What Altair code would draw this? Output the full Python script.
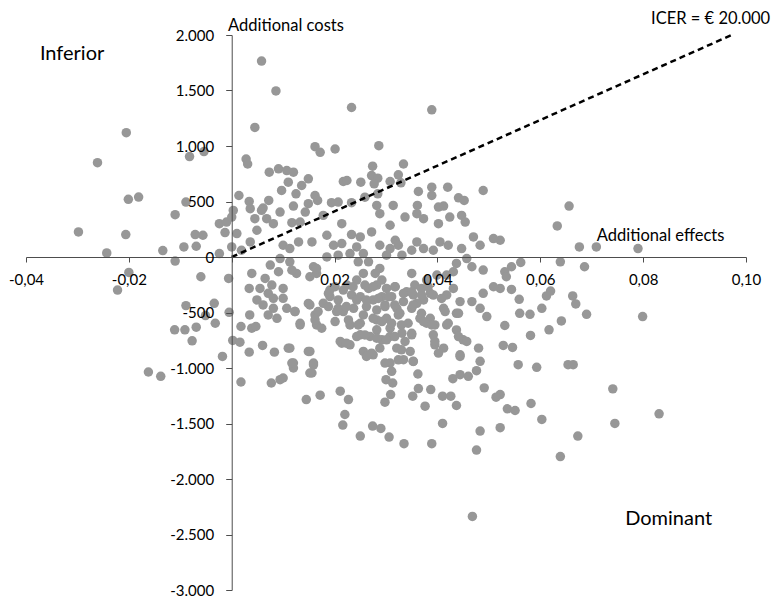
import altair as alt
import pandas as pd

# incremental effects (QALY) of each bootstrap replicate
effects = [
    -0.0205, -0.0261, -0.0201, -0.0181, -0.0082, -0.0054, -0.0089, 0.0058, 0.0086, 0.0045,
    0.0028, 0.0031, 0.0073, 0.0091, 0.0014, 0.0034, 0.0072, 0.0061, 0.0097,
    0.0233, 0.0389, 0.0162, 0.0172, 0.0201, 0.0286, 0.0334, 0.0274, 0.0324, 0.0272,
    0.0284, 0.0308, 0.0329, 0.0277, 0.0251, 0.0217, 0.0224, 0.0149, 0.0136, 0.0120,
    0.0107, 0.0110, 0.0125, 0.0162, 0.0167, 0.0149, 0.0120, 0.0194, 0.0207, 0.0233,
    0.0259, 0.0284, 0.0282, 0.0314, 0.0363, 0.0389, 0.0389, 0.0420, 0.0441, 0.0452,
    0.0489, 0.0361, 0.0402, 0.0412,
    0.0656,
    -0.0298, -0.0243, -0.0206, -0.0200, -0.0222, -0.0134, -0.0110, -0.0110, -0.0093, -0.0071,
    -0.0056, -0.0069, -0.0024, -0.0060, -0.0006, -0.0089, -0.0034, -0.0051, -0.0005, -0.0032,
    -0.0111, -0.0091, -0.0069, -0.0077, -0.0018, 0.0002, 0.0016, 0.0018, 0.0034, 0.0060,
    0.0083, 0.0039, 0.0047, 0.0035, -0.0024, -0.0010, 0.0000, 0.0010, -0.0013, 0.0000,
    0.0019, 0.0036, 0.0049, 0.0045, 0.0068, 0.0081, 0.0003, 0.0036, 0.0058, 0.0039,
    0.0065, 0.0078, 0.0034, 0.0055, 0.0071, 0.0049, 0.0061, 0.0081, 0.0071, 0.0088,
    0.0081, 0.0075, 0.0091,
    0.0633, 0.0522, 0.0676, 0.0709, 0.0790, 0.0639, 0.0686, 0.0562, 0.0544, 0.0531,
    0.0534, 0.0522, 0.0544, 0.0559, 0.0612, 0.0620, 0.0663, 0.0669, 0.0603, 0.0560,
    0.0580, 0.0690, 0.0799, 0.0641, 0.0531, 0.0617, 0.0581, 0.0528, 0.0546, 0.0557,
    0.0593, 0.0654, 0.0664,
    0.0741, 0.0522, 0.0582, 0.0536, 0.0551, 0.0603, 0.0522, 0.0745, 0.0831, 0.0673, 0.0639,
    -0.0162, -0.0138, 0.0018, 0.0077, 0.0094,
    0.0100, 0.0156, 0.0120, 0.0145, 0.0172, 0.0211, 0.0227, 0.0220, 0.0216, 0.0250,
    0.0274, 0.0290, 0.0306, 0.0335, 0.0389, 0.0300, 0.0311, 0.0313, 0.0309, 0.0298,
    0.0362, 0.0363, 0.0352, 0.0387, 0.0376, 0.0410, 0.0426, 0.0437, 0.0430, 0.0444,
    0.0460, 0.0476, 0.0491, 0.0514, 0.0410, 0.0483, 0.0476, 0.0468,
    0.0094, 0.0117, 0.0133, 0.0143, 0.0178, 0.0214, 0.0233, 0.0250, 0.0272, 0.0288,
    0.0308, 0.0337, 0.0360, 0.0373, 0.0402, 0.0424, 0.0447, 0.0454, 0.0185, 0.0198,
    0.0214, 0.0130, 0.0156, 0.0100, 0.0113, 0.0094, 0.0113, 0.0126, 0.0159, 0.0165,
    0.0185, 0.0207, 0.0230, 0.0243, 0.0256, 0.0246, 0.0266, 0.0288, 0.0308, 0.0318,
    0.0324, 0.0301, 0.0331, 0.0350, 0.0360, 0.0373, 0.0392, 0.0405, 0.0421, 0.0447,
    0.0457, 0.0470, 0.0483, 0.0509, 0.0467, 0.0489, 0.0437, 0.0431, 0.0418, 0.0399,
    0.0379, 0.0350, 0.0288, 0.0279, 0.0256, 0.0243, 0.0224, 0.0191, 0.0191, 0.0207,
    0.0233, 0.0250, 0.0266, 0.0282, 0.0301, 0.0318, 0.0340, 0.0356, 0.0369, 0.0386,
    0.0373, 0.0353, 0.0311, 0.0292, 0.0275, 0.0262, 0.0282, 0.0298, 0.0321, 0.0334,
    0.0324, 0.0301, 0.0282, 0.0256, 0.0237, 0.0217, 0.0207, 0.0178, 0.0152, 0.0162,
    0.0165, 0.0133, 0.0123, 0.0107, 0.0100, 0.0100, 0.0250, 0.0230, 0.0282, 0.0308,
    0.0343, 0.0350, 0.0331, 0.0308, 0.0292, 0.0269, 0.0250, 0.0230, 0.0214, 0.0256,
    0.0275, 0.0308, 0.0334, 0.0353, 0.0321, 0.0288, 0.0379, 0.0395, 0.0418, 0.0412,
    0.0437, 0.0418, 0.0431, 0.0444, 0.0467, 0.0483, 0.0496, 0.0509, 0.0489, 0.0450,
    0.0457, 0.0480, 0.0483, 0.0444, 0.0412, 0.0395, 0.0392, 0.0152, 0.0120, 0.0159,
    0.0110, 0.0366, 0.0386, 0.0350, 0.0360,
    0.0117, 0.0165, 0.0152, 0.0188, 0.0201, 0.0217, 0.0236, 0.0259, 0.0275, 0.0292,
    0.0317, 0.0334, 0.0350, 0.0369, 0.0382, 0.0392, 0.0408, 0.0149, 0.0168, 0.0188,
    0.0204, 0.0223, 0.0243, 0.0262, 0.0285, 0.0305, 0.0298, 0.0317, 0.0327, 0.0353,
    0.0369, 0.0123, 0.0133, 0.0162, 0.0175, 0.0201, 0.0227, 0.0246, 0.0275, 0.0292,
    0.0311, 0.0330, 0.0350, 0.0373, 0.0389, 0.0415, 0.0421, 0.0437, 0.0441, 0.0211,
    0.0223, 0.0243, 0.0259, 0.0282, 0.0301, 0.0317, 0.0337, 0.0330, 0.0347, 0.0272,
    0.0262, 0.0298, 0.0324, 0.0353, 0.0395, 0.0402, 0.0441, 0.0444, 0.0113, 0.0149,
    0.0117, 0.0159, 0.0152,
]

# incremental costs (EUR) of each bootstrap replicate
costs = [
    1120, 850, 520, 540, 905, 950, 495, 1765, 1496, 1167,
    883, 838, 764, 794, 554, 501, 510, 441, 600,
    1347, 1326, 994, 943, 973, 1003, 838, 818, 740, 734,
    710, 680, 668, 659, 674, 680, 689, 704, 644, 764,
    779, 674, 569, 554, 510, 480, 459, 489, 495, 489,
    539, 569, 465, 465, 590, 629, 554, 629, 533, 510,
    599, 465, 450, 459,
    459,
    226, 37, 202, -139, -298, 58, -37, 381, 91, 202,
    196, 97, 31, -178, -193, -438, -417, -528, -498, -597,
    -656, -656, -632, -755, -896, -752, -767, -626, -857, -797,
    -857, -641, -626, -522, 300, 315, 360, 211, 220, 91,
    61, 136, 241, 345, 345, 300, 420, 435, 420, -148,
    -193, -253, -283, -283, -327, -387, -432, -462, -522, -552,
    -372, -73, -133,
    280, 151, 91, 91, 76, -43, -88, -49, -88, -133,
    -178, -283, -292, -381, -351, -307, -351, -423, -462, -507,
    -516, -516, -537, -576, -617, -656, -707, -797, -815, -970,
    -994, -970, -970,
    -1188, -1239, -1320, -1368, -1383, -1463, -1538, -1499, -1413, -1613, -1798,
    -1036, -1075, -1126, -1135, -1105,
    -1090, -1045, -1000, -1284, -1245, -1209, -1284, -1419, -1514, -1613,
    -1523, -1544, -1622, -1682, -1682, -1105, -1030, -1135, -1239, -1308,
    -1054, -1185, -1254, -1194, -1344, -1254, -1254, -1338, -1096, -1060,
    -1075, -1024, -1179, -1263, -1499, -1568, -1739, -2337,
    405, 309, 315, 405, 375, 300, 202, 181, 226, 390,
    286, 360, 390, 345, 300, 360, 375, 315, 196, 106,
    121, 136, 136, 106, 76, -14, -43, -148, -88, -148,
    1, 16, 31, 91, 31, -43, -43, 106, 76, 151,
    106, 16, 16, 61, 136, 76, 61, 136, 106, 76,
    -14, 181, 106, 166, -88, -118, -58, -133, -163, -163,
    -208, -148, -103, -148, -148, -208, -253, -298, -357, -387,
    -342, -357, -283, -253, -283, -268, -313, -253, -283, -327,
    -387, -342, -357, -357, -387, -447, -477, -432, -462, -402,
    -522, -552, -567, -522, -462, -492, -462, -417, -432, -522,
    -612, -612, -492, -462, -283, -372, -597, -612, -656, -641,
    -597, -701, -686, -716, -746, -716, -701, -791, -776, -851,
    -881, -955, -925, -940, -821, -821, -597, -612, -612, -462,
    -507, -342, -283, -402, -402, -462, -537, -268, -327, -746,
    -761, -821, -940, -881, -821, -791, -701, -851, -955, -955,
    -821, -552, -552, -462, -417,
    -119, -104, -178, -328, -268, -298, -268, -253, -268, -208,
    -268, -328, -313, -343, -268, -343, -373, -418, -492, -447,
    -492, -447, -388, -388, -373, -358, -447, -432, -507, -432,
    -507, -492, -597, -567, -642, -582, -567, -612, -552, -582,
    -597, -612, -687, -582, -612, -492, -597, -657, -507, -761,
    -776, -717, -702, -731, -746, -717, -761, -836, -851, -866,
    -896, -956, -926, -941, -761, -866, -717, -896, -821, -851,
    -956, -971, -1045,
]

n = min(len(effects), len(costs))
df = pd.DataFrame({"effect": effects[:n], "cost": costs[:n]})

# threshold line ICER = EUR 20.000 per QALY
icer_effect = [0.0, 0.0977]
icer_cost = [0.0, 2010.0]
line_df = pd.DataFrame({"effect": icer_effect, "cost": icer_cost})

# quadrant annotations (left aligned)
note_text = ["Inferior", "Dominant", "Additional costs", "Additional effects"]
note_effect = [-0.0373, 0.0765, -0.0007, 0.0710]
note_cost = [1776, -2418, 2036, 145]
note_size = [20, 20, 16.5, 16.5]
notes_df = pd.DataFrame({"text": note_text, "effect": note_effect, "cost": note_cost, "size": note_size})

# threshold label (right aligned at the top right corner)
icer_text = ["ICER = € 20.000"]
icer_label_effect = [0.1047]
icer_label_cost = [2099]
icer_label_df = pd.DataFrame({"text": icer_text, "effect": icer_label_effect, "cost": icer_label_cost})

x_ticks = [-0.04, -0.02, 0.0, 0.02, 0.04, 0.06, 0.08, 0.10]
y_ticks = [-3000, -2500, -2000, -1500, -1000, -500, 0, 500, 1000, 1500, 2000]

W, H = 720, 555
x_dom = [-0.04, 0.10]
y_dom = [-3000, 2000]
x_off = -(H - H * (y_dom[1] - 0) / (y_dom[1] - y_dom[0]))
y_off = -(W * (0 - x_dom[0]) / (x_dom[1] - x_dom[0]))

xscale = alt.Scale(domain=x_dom, nice=False, zero=False)
yscale = alt.Scale(domain=y_dom, nice=False, zero=False)

x_axis = alt.Axis(
    values=x_ticks, offset=x_off, title=None, grid=False, zindex=1,
    labelExpr="datum.value == 0 ? '' : (datum.value < 0 ? '-' : '') + replace(format(abs(datum.value), '.2f'), '.', ',')",
    tickSize=5, labelPadding=10, labelFlush=False, labelOverlap=False,
)
y_axis = alt.Axis(
    values=y_ticks, offset=y_off, title=None, grid=False, zindex=1,
    labelExpr="(datum.value < 0 ? '-' : '') + replace(format(abs(datum.value), ',d'), ',', '.')",
    tickSize=6, labelPadding=12, labelFlush=False, labelOverlap=False,
)

points = alt.Chart(df).mark_circle(size=90, color="#979797", opacity=1).encode(
    x=alt.X("effect:Q", scale=xscale, axis=x_axis),
    y=alt.Y("cost:Q", scale=yscale, axis=y_axis),
)

icer = alt.Chart(line_df).mark_line(color="black", strokeWidth=2.5, strokeDash=[6, 4]).encode(
    x=alt.X("effect:Q", scale=xscale),
    y=alt.Y("cost:Q", scale=yscale),
)

notes = alt.Chart(notes_df).mark_text(align="left", baseline="alphabetic", font="Lato", color="black").encode(
    x=alt.X("effect:Q", scale=xscale),
    y=alt.Y("cost:Q", scale=yscale),
    text="text:N",
    size=alt.Size("size:Q", scale=None, legend=None),
)

icer_label = alt.Chart(icer_label_df).mark_text(
    align="right", baseline="alphabetic", font="Lato", color="black", fontSize=16.5
).encode(
    x=alt.X("effect:Q", scale=xscale),
    y=alt.Y("cost:Q", scale=yscale),
    text="text:N",
)

chart = alt.layer(points, icer, notes, icer_label).properties(
    width=W, height=H,
    autosize=alt.AutoSizeParams(type="none"),
    padding={"left": 26, "top": 35, "right": 27, "bottom": 8},
).configure_view(stroke=None).configure_axis(
    labelFont="Lato", labelFontSize=15, labelColor="black",
    domainColor="#4d4d4d", tickColor="#4d4d4d", domainWidth=1, tickWidth=1,
)

chart.save("out.html", embed_options={"renderer": "svg", "actions": False})
